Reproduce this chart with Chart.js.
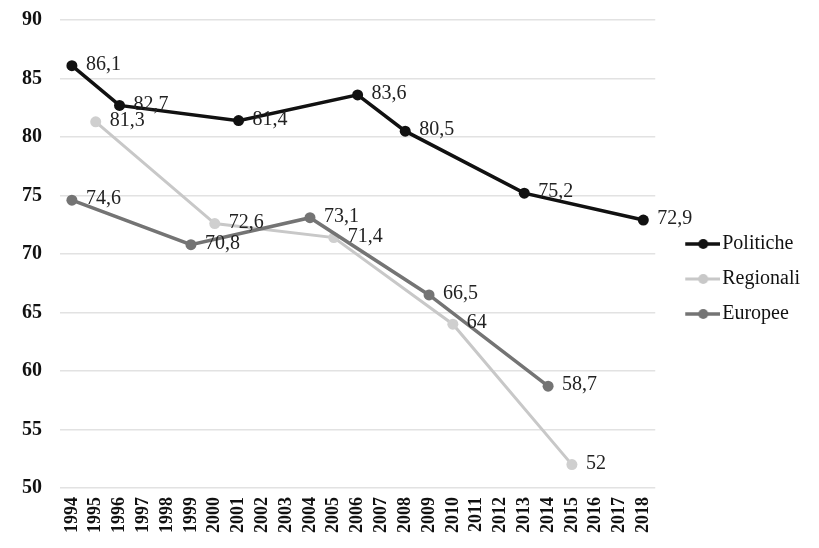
<!DOCTYPE html>
<html>
<head>
<meta charset="utf-8">
<script src="https://cdn.jsdelivr.net/npm/chart.js@4/dist/chart.umd.min.js"></script>
<style>
  html, body { margin: 0; padding: 0; background: #fff; }
  #wrap { width: 819px; height: 548px; }
</style>
</head>
<body>
<div id="wrap"><canvas id="turnoutChart" width="819" height="548"></canvas></div>
<script>
// x axis: every year from 1994 to 2018
const years = [];
for (let y = 1994; y <= 2018; y++) years.push(String(y));

// values
const politicheYears = [1994, 1996, 2001, 2006, 2008, 2013, 2018];
const politicheValues = [86.1, 82.7, 81.4, 83.6, 80.5, 75.2, 72.9];

const regionaliYears = [1995, 2000, 2005, 2010, 2015];
const regionaliValues = [81.3, 72.6, 71.4, 64, 52];

const europeeYears = [1994, 1999, 2004, 2009, 2014];
const europeeValues = [74.6, 70.8, 73.1, 66.5, 58.7];

const yTicks = [50, 55, 60, 65, 70, 75, 80, 85, 90];

const serif = "'Liberation Serif', 'Times New Roman', serif";

function toPoints(yrs, vals) {
    return yrs.map((yr, i) => ({ x: String(yr), y: vals[i] }));
}

// little line-with-dot swatch for the legend
function legendSwatch(color, lineW) {
    const c = document.createElement("canvas");
    c.width = 58;
    c.height = 14;
    const g = c.getContext("2d");
    g.strokeStyle = color;
    g.lineWidth = lineW;
    g.beginPath();
    g.moveTo(23, 7);
    g.lineTo(58, 7);
    g.stroke();
    g.fillStyle = color;
    g.beginPath();
    g.arc(41, 7, 5, 0, Math.PI * 2);
    g.fill();
    return c;
}

const swatches = [
    legendSwatch("#111111", 3.5),
    legendSwatch("#c8c8c8", 3),
    legendSwatch("#747474", 3.5)
];

// value labels to the right of each point, with comma decimals
const valueLabels = {
    id: "valueLabels",
    afterDatasetsDraw(chart) {
        const ctx = chart.ctx;
        ctx.save();
        ctx.font = "20px " + serif;
        ctx.fillStyle = "#222";
        ctx.textAlign = "left";
        ctx.textBaseline = "middle";
        chart.data.datasets.forEach((ds, di) => {
            const meta = chart.getDatasetMeta(di);
            meta.data.forEach((pt, i) => {
                const v = ds.data[i].y;
                ctx.fillText(String(v).replace(".", ","), pt.x + 14, pt.y - 1);
            });
        });
        ctx.restore();
    }
};

new Chart(document.getElementById("turnoutChart").getContext("2d"), {
    type: "line",
    data: {
        labels: years,
        datasets: [
            {
                label: "Politiche",
                data: toPoints(politicheYears, politicheValues),
                borderColor: "#111111",
                backgroundColor: "#111111",
                borderWidth: 3.5,
                pointRadius: 5.5,
                pointBorderWidth: 0,
                order: 0
            },
            {
                label: "Regionali",
                data: toPoints(regionaliYears, regionaliValues),
                borderColor: "#c8c8c8",
                backgroundColor: "#cfcfcf",
                borderWidth: 3,
                pointRadius: 5.5,
                pointBorderWidth: 0,
                order: 2
            },
            {
                label: "Europee",
                data: toPoints(europeeYears, europeeValues),
                borderColor: "#747474",
                backgroundColor: "#747474",
                borderWidth: 3.5,
                pointRadius: 5.5,
                pointBorderWidth: 0,
                order: 1
            }
        ]
    },
    options: {
        responsive: false,
        animation: false,
        layout: { padding: { top: 20, right: 9, bottom: 10, left: 22 } },
        plugins: {
            tooltip: { enabled: false },
            legend: {
                position: "right",
                labels: {
                    usePointStyle: true,
                    pointStyleWidth: 42,
                    padding: 15,
                    color: "#111",
                    font: { family: serif, size: 20 },
                    sort: (a, b) => a.datasetIndex - b.datasetIndex,
                    generateLabels(chart) {
                        const items = Chart.defaults.plugins.legend.labels.generateLabels(chart);
                        items.forEach(it => { it.pointStyle = swatches[it.datasetIndex]; });
                        return items;
                    }
                }
            }
        },
        scales: {
            x: {
                type: "category",
                offset: true,
                grid: { display: false, drawTicks: false },
                border: { display: false },
                ticks: {
                    autoSkip: false,
                    minRotation: 90,
                    maxRotation: 90,
                    padding: 9,
                    color: "#111",
                    font: { family: serif, size: 18, weight: "bold" }
                },
                afterFit(scale) { scale.height = 50; }
            },
            y: {
                min: 50,
                max: 90,
                afterBuildTicks(scale) { scale.ticks = yTicks.map(v => ({ value: v })); },
                grid: { color: "#e2e2e2", lineWidth: 1.5, drawTicks: false },
                border: { display: false },
                ticks: {
                    padding: 3,
                    crossAlign: "far",
                    color: "#111",
                    font: { family: serif, size: 20, weight: "bold" }
                },
                afterFit(scale) { scale.width = 38; }
            }
        }
    },
    plugins: [valueLabels]
});
</script>
</body>
</html>
